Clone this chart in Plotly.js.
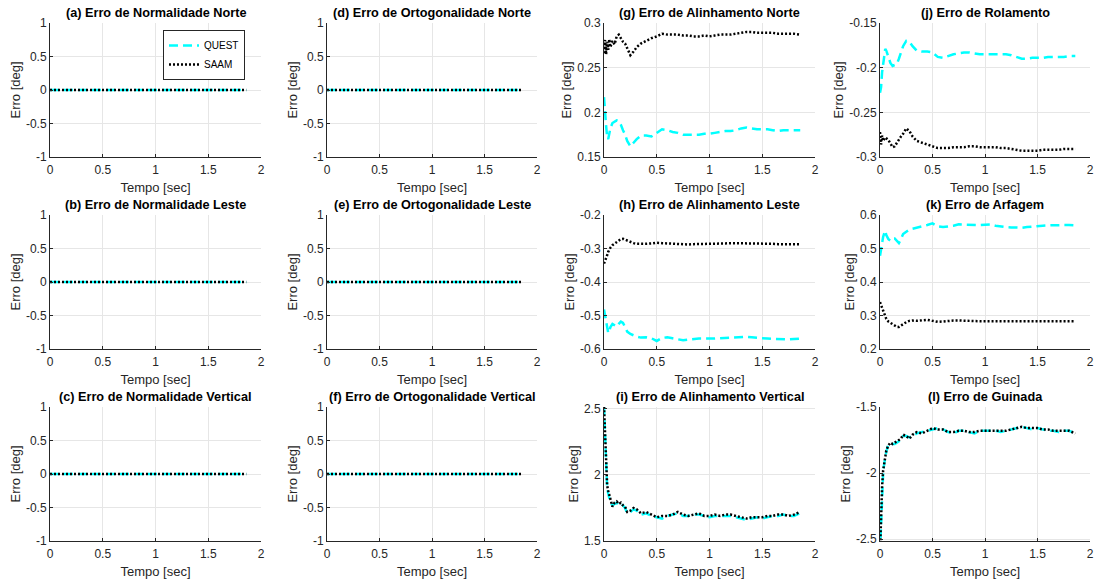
<!DOCTYPE html>
<html><head><meta charset="utf-8">
<script src="https://cdn.plot.ly/plotly-3.0.1.min.js"></script>
<style>html,body{margin:0;padding:0;background:#fff}#chart{width:1094px;height:583px}</style>
</head><body><div id="chart"></div><script>
// ---------- data ----------
const time = [0, 0.01, 0.02, 0.03, 0.04, 0.05, 0.06, 0.08, 0.10, 0.12, 0.14, 0.16, 0.18, 0.20, 0.22, 0.25, 0.28, 0.31, 0.35, 0.40, 0.45, 0.50, 0.55, 0.60, 0.65, 0.70, 0.75, 0.80, 0.85, 0.90, 0.95, 1.00, 1.05, 1.10, 1.15, 1.20, 1.25, 1.30, 1.35, 1.40, 1.45, 1.50, 1.55, 1.60, 1.65, 1.70, 1.75, 1.80, 1.86];
const zeroTime = [0, 1.86];
const zeroQuest = [0, 0];
const zeroSaam = [0, 0];

const gQuest = [0.217,0.205,0.185,0.172,0.170,0.176,0.182,0.188,0.190,0.191,0.190,0.186,0.180,0.175,0.168,0.162,0.166,0.170,0.174,0.174,0.173,0.177,0.181,0.180,0.178,0.177,0.175,0.175,0.175,0.175,0.176,0.176,0.177,0.178,0.179,0.179,0.180,0.182,0.183,0.182,0.181,0.181,0.181,0.180,0.179,0.180,0.180,0.180,0.180];
const gSaam = [0.266,0.281,0.265,0.279,0.270,0.282,0.273,0.280,0.276,0.285,0.287,0.283,0.279,0.277,0.271,0.264,0.268,0.273,0.277,0.280,0.283,0.285,0.288,0.287,0.287,0.287,0.286,0.286,0.285,0.285,0.286,0.285,0.286,0.287,0.287,0.287,0.288,0.289,0.290,0.290,0.289,0.289,0.289,0.289,0.288,0.288,0.288,0.288,0.287];

const hQuest = [-0.482,-0.500,-0.525,-0.540,-0.552,-0.548,-0.535,-0.525,-0.530,-0.533,-0.525,-0.518,-0.522,-0.538,-0.548,-0.555,-0.560,-0.563,-0.566,-0.565,-0.568,-0.576,-0.567,-0.565,-0.568,-0.570,-0.574,-0.572,-0.570,-0.569,-0.569,-0.570,-0.569,-0.568,-0.567,-0.566,-0.565,-0.564,-0.564,-0.565,-0.567,-0.568,-0.569,-0.570,-0.571,-0.572,-0.571,-0.570,-0.569];
const hSaam = [-0.345,-0.338,-0.330,-0.320,-0.310,-0.303,-0.298,-0.290,-0.285,-0.280,-0.276,-0.272,-0.271,-0.274,-0.277,-0.281,-0.284,-0.286,-0.287,-0.286,-0.285,-0.283,-0.284,-0.285,-0.286,-0.288,-0.289,-0.288,-0.287,-0.287,-0.286,-0.286,-0.285,-0.285,-0.285,-0.284,-0.284,-0.284,-0.284,-0.285,-0.285,-0.285,-0.286,-0.286,-0.287,-0.287,-0.287,-0.287,-0.287];

const iQuest = [2.52,2.30,2.05,1.90,1.86,1.83,1.79,1.77,1.78,1.79,1.77,1.78,1.77,1.75,1.71,1.72,1.74,1.73,1.70,1.71,1.69,1.68,1.67,1.69,1.70,1.71,1.69,1.69,1.70,1.70,1.69,1.68,1.69,1.69,1.69,1.69,1.68,1.67,1.66,1.67,1.68,1.67,1.68,1.69,1.69,1.70,1.69,1.69,1.71];
const iSaam = [2.52,2.35,2.10,1.92,1.88,1.85,1.80,1.76,1.79,1.80,1.78,1.79,1.77,1.76,1.72,1.73,1.75,1.74,1.71,1.72,1.70,1.68,1.69,1.69,1.70,1.72,1.70,1.69,1.70,1.71,1.69,1.69,1.70,1.69,1.70,1.70,1.69,1.68,1.67,1.68,1.68,1.68,1.69,1.69,1.70,1.70,1.69,1.70,1.72];

const jQuest = [-0.228,-0.222,-0.205,-0.195,-0.185,-0.179,-0.181,-0.188,-0.195,-0.198,-0.197,-0.196,-0.190,-0.182,-0.176,-0.170,-0.171,-0.176,-0.181,-0.182,-0.182,-0.183,-0.188,-0.189,-0.187,-0.185,-0.184,-0.183,-0.183,-0.184,-0.185,-0.185,-0.185,-0.185,-0.185,-0.185,-0.186,-0.188,-0.190,-0.190,-0.189,-0.189,-0.189,-0.188,-0.188,-0.188,-0.188,-0.187,-0.187];
const jSaam = [-0.272,-0.286,-0.276,-0.282,-0.280,-0.278,-0.279,-0.281,-0.285,-0.289,-0.288,-0.284,-0.281,-0.277,-0.274,-0.268,-0.271,-0.277,-0.282,-0.284,-0.286,-0.288,-0.290,-0.290,-0.290,-0.289,-0.289,-0.289,-0.288,-0.288,-0.289,-0.289,-0.289,-0.289,-0.290,-0.290,-0.291,-0.292,-0.293,-0.293,-0.293,-0.293,-0.292,-0.292,-0.292,-0.292,-0.291,-0.291,-0.291];

const kQuest = [0.478,0.500,0.525,0.535,0.545,0.553,0.540,0.528,0.523,0.530,0.530,0.522,0.516,0.528,0.543,0.550,0.556,0.559,0.562,0.565,0.570,0.575,0.566,0.564,0.565,0.568,0.572,0.571,0.570,0.570,0.570,0.571,0.572,0.568,0.565,0.564,0.563,0.562,0.562,0.564,0.566,0.567,0.568,0.569,0.570,0.570,0.570,0.570,0.569];
const kSaam = [0.340,0.332,0.320,0.312,0.303,0.295,0.290,0.282,0.277,0.274,0.270,0.266,0.266,0.270,0.275,0.280,0.284,0.285,0.284,0.285,0.287,0.284,0.281,0.282,0.284,0.285,0.285,0.284,0.283,0.283,0.283,0.283,0.283,0.282,0.281,0.281,0.281,0.282,0.282,0.282,0.283,0.283,0.283,0.283,0.283,0.283,0.283,0.283,0.283];

const lQuest = [-2.60,-2.35,-2.15,-2.00,-1.93,-1.88,-1.84,-1.78,-1.78,-1.78,-1.78,-1.77,-1.76,-1.74,-1.72,-1.72,-1.73,-1.72,-1.70,-1.69,-1.68,-1.67,-1.66,-1.67,-1.69,-1.70,-1.68,-1.68,-1.69,-1.70,-1.68,-1.68,-1.68,-1.68,-1.69,-1.68,-1.67,-1.66,-1.65,-1.66,-1.67,-1.66,-1.67,-1.68,-1.68,-1.69,-1.68,-1.68,-1.70];
const lSaam = [-2.60,-2.30,-2.10,-1.98,-1.92,-1.87,-1.83,-1.79,-1.77,-1.78,-1.77,-1.76,-1.75,-1.74,-1.71,-1.72,-1.74,-1.71,-1.69,-1.70,-1.68,-1.66,-1.67,-1.67,-1.69,-1.69,-1.68,-1.68,-1.69,-1.69,-1.68,-1.68,-1.68,-1.68,-1.68,-1.68,-1.67,-1.66,-1.65,-1.66,-1.66,-1.66,-1.67,-1.67,-1.68,-1.68,-1.68,-1.68,-1.70];

const panelTitles = [
  '(a) Erro de Normalidade Norte', '(b) Erro de Normalidade Leste', '(c) Erro de Normalidade Vertical',
  '(d) Erro de Ortogonalidade Norte', '(e) Erro de Ortogonalidade Leste', '(f) Erro de Ortogonalidade Vertical',
  '(g) Erro de Alinhamento Norte', '(h) Erro de Alinhamento Leste', '(i) Erro de Alinhamento Vertical',
  '(j) Erro de Rolamento', '(k) Erro de Arfagem', '(l) Erro de Guinada'
];
const seriesNames = ['QUEST', 'SAAM'];
const xTickVals = [0, 0.5, 1, 1.5, 2];
const xTickText = ['0', '0.5', '1', '1.5', '2'];
const unitTickVals = [-1, -0.5, 0, 0.5, 1];
const unitTickText = ['-1', '-0.5', '0', '0.5', '1'];
const gTickVals = [0.15, 0.2, 0.25, 0.3];
const gTickText = ['0.15', '0.2', '0.25', '0.3'];
const hTickVals = [-0.6, -0.5, -0.4, -0.3, -0.2];
const hTickText = ['-0.6', '-0.5', '-0.4', '-0.3', '-0.2'];
const iTickVals = [1.5, 2, 2.5];
const iTickText = ['1.5', '2', '2.5'];
const jTickVals = [-0.3, -0.25, -0.2, -0.15];
const jTickText = ['-0.3', '-0.25', '-0.2', '-0.15'];
const kTickVals = [0.2, 0.3, 0.4, 0.5, 0.6];
const kTickText = ['0.2', '0.3', '0.4', '0.5', '0.6'];
const lTickVals = [-2.5, -2, -1.5];
const lTickText = ['-2.5', '-2', '-1.5'];

// ---------- panels ----------
const zeroPanel = {x: zeroTime, q: zeroQuest, s: zeroSaam, tv: unitTickVals, tt: unitTickText, range: [-1, 1]};
const panels = [
  zeroPanel, zeroPanel, zeroPanel, zeroPanel, zeroPanel, zeroPanel,
  {x: time, q: gQuest, s: gSaam, tv: gTickVals, tt: gTickText, range: [0.15, 0.3]},
  {x: time, q: hQuest, s: hSaam, tv: hTickVals, tt: hTickText, range: [-0.6, -0.2]},
  {x: time, q: iQuest, s: iSaam, tv: iTickVals, tt: iTickText, range: [1.5, 2.515]},
  {x: time, q: jQuest, s: jSaam, tv: jTickVals, tt: jTickText, range: [-0.3, -0.15]},
  {x: time, q: kQuest, s: kSaam, tv: kTickVals, tt: kTickText, range: [0.2, 0.6]},
  {x: time, q: lQuest, s: lSaam, tv: lTickVals, tt: lTickText, range: [-2.515, -1.5]}
];

const W = 1094, H = 583;
const colPx = [[50, 261], [327, 537], [604, 815], [880, 1090]];
const rowPx = [[23, 157], [215, 349], [407, 541]];
const ink = '#262626';

const traces = [];
const layout = {
  width: W, height: H,
  margin: {l: 0, r: 0, t: 0, b: 0},
  paper_bgcolor: '#fff', plot_bgcolor: '#fff',
  font: {family: 'Liberation Sans, Arial, sans-serif', color: ink, size: 12},
  showlegend: true,
  legend: {
    x: 163 / W, y: 1 - 30 / H, xanchor: 'left', yanchor: 'top',
    bgcolor: '#fff', bordercolor: ink, borderwidth: 1,
    font: {size: 10, color: '#000'}, tracegroupgap: 0, itemwidth: 30
  },
  annotations: []
};

panels.forEach((p, i) => {
  const n = i + 1;
  const col = Math.floor(i / 3), row = i % 3;
  const xa = 'xaxis' + (n === 1 ? '' : n), ya = 'yaxis' + (n === 1 ? '' : n);
  const xr = 'x' + (n === 1 ? '' : n), yr = 'y' + (n === 1 ? '' : n);
  const xd = [colPx[col][0] / W, colPx[col][1] / W];
  const yd = [1 - rowPx[row][1] / H, 1 - rowPx[row][0] / H];
  const common = {
    showgrid: true, gridcolor: '#e6e6e6', gridwidth: 1,
    zeroline: false, showline: true, linecolor: ink, linewidth: 1,
    ticks: 'inside', ticklen: 3, tickcolor: ink,
    tickfont: {size: 12, color: ink}, mirror: false, fixedrange: true
  };
  layout[xa] = Object.assign({}, common, {
    domain: xd, anchor: yr, range: [0, 2],
    tickmode: 'array', tickvals: xTickVals, ticktext: xTickText,
    ticklabelstandoff: 2,
    title: {text: 'Tempo [sec]', font: {size: 13, color: ink}, standoff: 6}
  });
  layout[ya] = Object.assign({}, common, {
    domain: yd, anchor: xr, range: p.range,
    tickmode: 'array', tickvals: p.tv, ticktext: p.tt,
    title: {text: 'Erro [deg]', font: {size: 13, color: ink}, standoff: 2}
  });
  layout.annotations.push({
    text: '<b>' + panelTitles[i] + '</b>', xref: 'paper', yref: 'paper',
    x: (xd[0] + xd[1]) / 2, y: yd[1], xanchor: 'center', yanchor: 'bottom',
    yshift: 1, showarrow: false, font: {size: 12.7, color: '#000'}
  });
  traces.push({
    x: p.x, y: p.q, type: 'scatter', mode: 'lines', name: seriesNames[0],
    xaxis: xr, yaxis: yr, showlegend: i === 0, cliponaxis: true,
    line: {color: '#00ffff', width: 2.5, dash: '9px,5px'}
  });
  traces.push({
    x: p.x, y: p.s, type: 'scatter', mode: 'lines', name: seriesNames[1],
    xaxis: xr, yaxis: yr, showlegend: i === 0, cliponaxis: true,
    line: {color: '#000000', width: 2.5, dash: '2px,2px'}
  });
});

Plotly.newPlot('chart', traces, layout, {displayModeBar: false, staticPlot: true});
</script></body></html>
